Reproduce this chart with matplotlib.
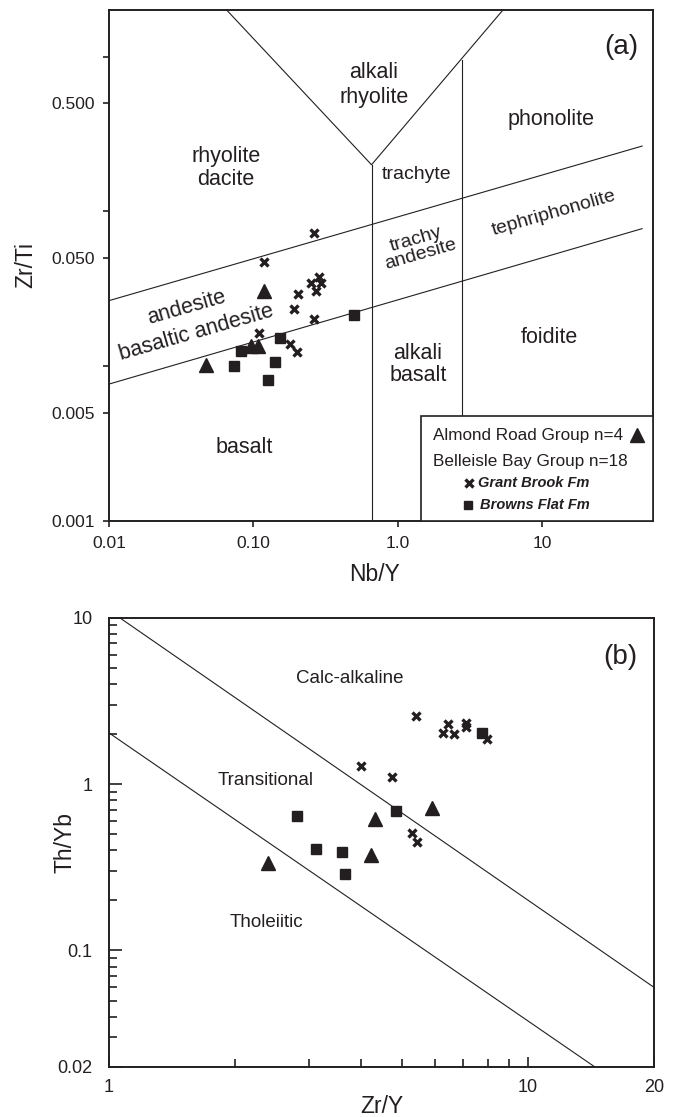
import numpy as np
import matplotlib.pyplot as plt
from matplotlib.patches import Rectangle
from matplotlib.ticker import NullFormatter

plt.rcParams['font.family'] = ['Liberation Sans', 'DejaVu Sans']
ink = '#231f20'

# ---- (a) Nb/Y vs Zr/Ti ----
almond_nby = [0.119, 0.096, 0.107, 0.047]
almond_zrti = [0.0306, 0.0134, 0.0135, 0.0102]

grant_nby = [0.263, 0.119, 0.287, 0.250, 0.296, 0.272, 0.203, 0.191, 0.264, 0.109, 0.180, 0.200]
grant_zrti = [0.0729, 0.0473, 0.0379, 0.0346, 0.0343, 0.0307, 0.0291, 0.0234, 0.0201, 0.0164, 0.0139, 0.0124]

browns_nby = [0.082, 0.074, 0.127, 0.141, 0.154, 0.499]
browns_zrti = [0.0125, 0.0100, 0.0081, 0.0106, 0.0151, 0.0213]

# field boundaries (Nb/Y, Zr/Ti)
upper_line = ([0.01, 49.5], [0.0265, 0.264])
lower_line = ([0.01, 49.5], [0.00766, 0.0773])
trachyte_left = ([0.66, 0.66], [0.001, 0.20])
trachyte_right = ([2.81, 2.81], [0.001, 0.946])
rhyolite_v = ([0.0653, 0.66, 5.38], [2.0, 0.20, 2.0])

# ---- (b) Zr/Y vs Th/Yb ----
almond_zry = [5.88, 4.30, 4.22, 2.40]
almond_thyb = [0.719, 0.616, 0.377, 0.334]

grant_zry = [5.39, 6.43, 6.25, 6.67, 7.11, 7.11, 7.96, 4.00, 4.74, 5.27, 5.42]
grant_thyb = [2.56, 2.31, 2.04, 1.99, 2.33, 2.21, 1.86, 1.29, 1.10, 0.510, 0.450]

browns_zry = [4.83, 2.81, 3.12, 3.59, 3.66, 7.78]
browns_thyb = [0.688, 0.642, 0.406, 0.388, 0.289, 2.04]

calc_line = ([1.06, 20], [10, 0.0598])
thol_line = ([1.0, 14.4], [2.03, 0.02])

fig = plt.figure(figsize=(6.75, 11.17), dpi=100)
ax1 = fig.add_axes([0.1615, 0.5336, 0.806, 0.4575])
ax2 = fig.add_axes([0.1615, 0.0450, 0.8079, 0.4020])

mk = dict(linestyle='none', color=ink)

# panel (a)
for xs, ys in [upper_line, lower_line, trachyte_left, trachyte_right, rhyolite_v]:
    ax1.plot(xs, ys, color=ink, lw=0.8, zorder=2)
ax1.plot(grant_nby, grant_zrti, marker='x', ms=6, mew=2.4, zorder=4, **mk)
ax1.plot(browns_nby, browns_zrti, marker='s', ms=6.5, zorder=4, **mk)
ax1.plot(almond_nby, almond_zrti, marker='^', ms=9.5, zorder=4, **mk)

ax1.set_xscale('log')
ax1.set_yscale('log')
ax1.set_xlim(0.01, 59)
ax1.set_ylim(0.001, 2.0)
ax1.set_xticks([0.01, 0.1, 1, 10], ['0.01', '0.10', '1.0', '10'])
ax1.set_yticks([0.001, 0.005, 0.01, 0.05, 0.1, 0.5, 1],
               ['0.001', '0.005', '', '0.050', '', '0.500', ''])
ax1.minorticks_off()
ax1.tick_params(direction='out', length=4.5, width=1.2, colors=ink,
                labelsize=12.5, pad=6)
ax1.set_xlabel('Nb/Y', fontsize=16.5, color=ink)
ax1.set_ylabel('Zr/Ti', fontsize=16.5, color=ink)
ax1.xaxis.set_label_coords(0.489, -0.082)
ax1.yaxis.set_label_coords(-0.132, 0.5)

t = ax1.transAxes
lab = dict(transform=t, ha='center', va='center', color=ink)
ax1.text(0.215, 0.691, 'rhyolite\ndacite', fontsize=15.5, linespacing=1.1, **lab)
ax1.text(0.487, 0.853, 'alkali\nrhyolite', fontsize=15.5, linespacing=1.2, **lab)
ax1.text(0.812, 0.785, 'phonolite', fontsize=15.5, **lab)
ax1.text(0.566, 0.678, 'trachyte', fontsize=14, **lab)
ax1.text(0.819, 0.602, 'tephriphonolite', fontsize=14, rotation=16,
         rotation_mode='anchor', **lab)
ax1.text(0.568, 0.536, 'trachy\nandesite', fontsize=14, rotation=16,
         linespacing=0.95, rotation_mode='anchor', **lab)
ax1.text(0.143, 0.418, 'andesite', fontsize=15.5, rotation=16,
         rotation_mode='anchor', **lab)
ax1.text(0.161, 0.368, 'basaltic andesite', fontsize=15.5, rotation=16,
         rotation_mode='anchor', **lab)
ax1.text(0.249, 0.143, 'basalt', fontsize=15.5, **lab)
ax1.text(0.568, 0.306, 'alkali\nbasalt', fontsize=15.5, linespacing=1.1, **lab)
ax1.text(0.809, 0.359, 'foidite', fontsize=15.5, **lab)
ax1.text(0.941, 0.928, '(a)', fontsize=20, **lab)

# legend box
ax1.add_patch(Rectangle((0.573, 0.0), 0.427, 0.2055, transform=t,
                        facecolor='white', edgecolor=ink, lw=1.2, zorder=5))
leg = dict(transform=t, va='center', color=ink, zorder=6)
ax1.text(0.595, 0.168, 'Almond Road Group n=4', fontsize=12.3, **leg)
ax1.text(0.595, 0.116, 'Belleisle Bay Group n=18', fontsize=12.3, **leg)
ax1.text(0.679, 0.0738, 'Grant Brook Fm', fontsize=10.5,
         fontweight='bold', fontstyle='italic', **leg)
ax1.text(0.681, 0.0313, 'Browns Flat Fm', fontsize=10.5,
         fontweight='bold', fontstyle='italic', **leg)
ax1.plot([0.970], [0.168], marker='^', ms=9.5, transform=t, zorder=7,
         clip_on=False, **mk)
ax1.plot([0.662], [0.0738], marker='x', ms=5.5, mew=2.4, transform=t,
         zorder=7, clip_on=False, **mk)
ax1.plot([0.660], [0.0313], marker='s', ms=6, transform=t, zorder=7,
         clip_on=False, **mk)

# panel (b)
for xs, ys in [calc_line, thol_line]:
    ax2.plot(xs, ys, color=ink, lw=0.8, zorder=2)
ax2.plot(grant_zry, grant_thyb, marker='x', ms=6, mew=2.4, zorder=4, **mk)
ax2.plot(browns_zry, browns_thyb, marker='s', ms=6.5, zorder=4, **mk)
ax2.plot(almond_zry, almond_thyb, marker='^', ms=9.5, zorder=4, **mk)

ax2.set_xscale('log')
ax2.set_yscale('log')
ax2.set_xlim(1, 20)
ax2.set_ylim(0.02, 10)
ax2.set_xticks([1, 10, 20], ['1', '10', '20'])
ax2.set_xticks([2, 3, 4, 5, 6, 7, 8, 9], minor=True)
ax2.set_yticks([0.02, 0.1, 1, 10], ['0.02', '0.1', '1', '10'])
ax2.set_yticks([0.03, 0.04, 0.05, 0.06, 0.07, 0.08, 0.09,
                0.2, 0.3, 0.4, 0.5, 0.6, 0.7, 0.8, 0.9,
                2, 3, 4, 5, 6, 7, 8, 9], minor=True)
ax2.xaxis.set_minor_formatter(NullFormatter())
ax2.yaxis.set_minor_formatter(NullFormatter())
ax2.tick_params(which='major', direction='in', length=9, width=1.2,
                colors=ink, labelsize=13, pad=12)
ax2.tick_params(axis='x', which='major', length=7, pad=9)
ax2.tick_params(which='minor', direction='in', length=5.5, width=1.2, colors=ink)
ax2.set_xlabel('Zr/Y', fontsize=16.5, color=ink)
ax2.set_ylabel('Th/Yb', fontsize=16.5, color=ink)
ax2.xaxis.set_label_coords(0.5, -0.062)
ax2.yaxis.set_label_coords(-0.0605, 0.5)

t2 = ax2.transAxes
lab2 = dict(transform=t2, ha='center', va='center', color=ink)
ax2.text(0.441, 0.865, 'Calc-alkaline', fontsize=13.5, **lab2)
ax2.text(0.288, 0.638, 'Transitional', fontsize=13.5, **lab2)
ax2.text(0.288, 0.321, 'Tholeiitic', fontsize=13.5, **lab2)
ax2.text(0.938, 0.913, '(b)', fontsize=20, **lab2)

for ax in (ax1, ax2):
    for s in ax.spines.values():
        s.set_linewidth(1.4)
        s.set_color(ink)

plt.savefig('out.png', dpi=100)
plt.close()
